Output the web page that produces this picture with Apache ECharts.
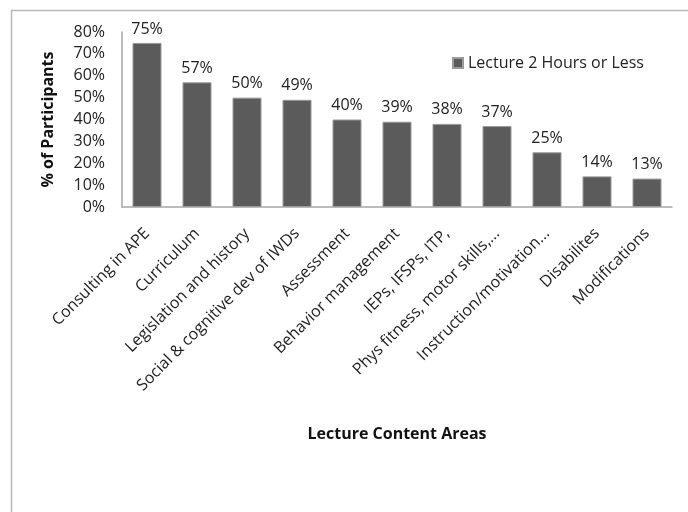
<!DOCTYPE html>
<html><head><meta charset="utf-8">
<script src="https://cdn.jsdelivr.net/npm/echarts@6/dist/echarts.min.js"></script>
<style>html,body{margin:0;padding:0;background:#fff}#c{width:688px;height:512px}</style>
</head><body><div id="c"></div>
<script>
const categories = ["Consulting in APE","Curriculum","Legislation and history","Social & cognitive dev of IWDs","Assessment","Behavior management","IEPs, IFSPs, ITP,","Phys fitness, motor skills,...","Instruction/motivation...","Disabilites","Modifications"];
const values = [75,57,50,49,40,39,38,37,25,14,13];
const seriesName = "Lecture 2 Hours or Less";
const yTicks = [0,10,20,30,40,50,60,70,80];

const FONT = "Open Sans";
const FS = 16;
const chart = echarts.init(document.getElementById('c'));
chart.setOption({
  animation:false,
  textStyle:{fontFamily:FONT},
  graphic:[{type:'polyline',shape:{points:[[11.5,512],[11.5,10.5],[688,10.5]]},style:{stroke:'#b8b8b8',lineWidth:1.5,fill:null},silent:true}],
  legend:{data:[seriesName],left:447,top:50,itemWidth:10,itemHeight:10,itemGap:5,icon:'rect',
    textStyle:{fontFamily:FONT,fontSize:FS,color:'#222'}},
  grid:{left:122,right:16,top:32,bottom:305},
  xAxis:{type:'category',data:categories,
    name:'Lecture Content Areas',nameLocation:'middle',nameGap:219,
    nameTextStyle:{fontFamily:FONT,fontWeight:'bold',fontSize:FS,color:'#111'},
    axisLine:{lineStyle:{color:'#a6a6a6',width:1.5}},axisTick:{show:false},
    axisLabel:{rotate:45,interval:0,margin:24,fontFamily:FONT,fontSize:FS,color:'#222'}},
  yAxis:{type:'value',min:0,max:80,interval:10,
    name:'% of Participants',nameLocation:'middle',nameGap:66,nameRotate:90,
    nameTextStyle:{fontFamily:FONT,fontWeight:'bold',fontSize:FS,color:'#111'},
    axisLine:{show:true,lineStyle:{color:'#a6a6a6',width:1.5}},axisTick:{show:false},splitLine:{show:false},
    axisLabel:{margin:17,fontFamily:FONT,fontSize:FS,color:'#222',
      formatter:v=>yTicks.includes(v)?v+'%':''}},
  series:[{type:'bar',name:seriesName,data:values,barWidth:29,
    itemStyle:{color:'#5b5b5b',borderColor:'#9a9a9a',borderWidth:1},
    label:{show:true,position:'top',distance:6,formatter:p=>p.value+'%',fontFamily:FONT,fontSize:FS,color:'#222'}}]
});
</script></body></html>
